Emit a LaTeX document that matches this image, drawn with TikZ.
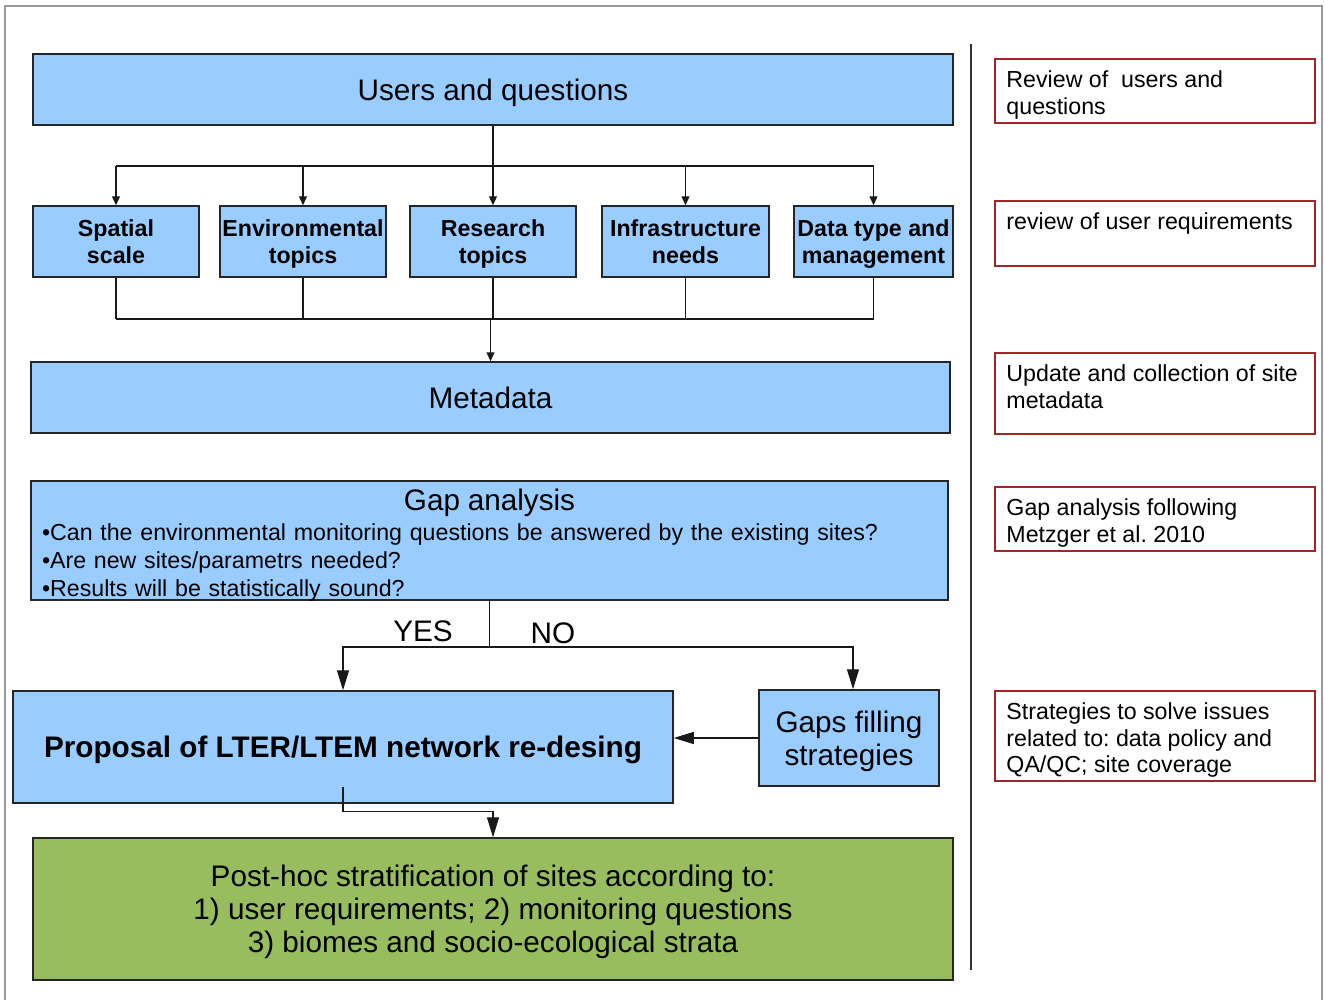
\documentclass[tikz,border=0pt]{standalone}
\usepackage{fontspec}
\setmainfont{Liberation Sans}
\usetikzlibrary{arrows.meta}
\frenchspacing
\definecolor{boxblue}{RGB}{153,204,255}
\definecolor{boxgreen}{RGB}{151,189,94}
\definecolor{notered}{RGB}{160,38,40}
\newcommand{\bigtext}{\fontsize{29.7}{33}\selectfont}
\newcommand{\smalltext}{\fontsize{23.2}{26.5}\selectfont}
\newcommand{\gaptext}{\fontsize{23.2}{28}\selectfont}

\begin{document}
\begin{tikzpicture}[x=1pt,y=-1pt,
  boxbase/.style={draw=black!85,line width=1.5pt,fill=boxblue,inner sep=0pt},
  bluebox/.style={boxbase,align=center,text depth=0pt},
  notebox/.style={draw=notered,line width=1.5pt,minimum width=320pt,inner sep=0pt},
  notetext/.style={anchor=north west,inner sep=0pt,align=left,font=\smalltext,xshift=12pt,yshift=-12.5pt},
  link/.style={line width=1.2pt,black!90},
  smallarr/.style={link,-{Triangle[length=9pt,width=8pt]}},
  bigarr/.style={link,-{Triangle[length=20pt,width=12pt]}}]

\useasboundingbox (0,0) rectangle (1325,999);
\draw[black!40,line width=1.2pt] (5,1005) -- (5,6) -- (1322,6) -- (1322,1005);
\draw[black!80,line width=1.6pt] (971,44) -- (971,970);

\node[bluebox,minimum width=920pt,minimum height=71pt,font=\bigtext] (users) at (493,89.5) {Users and questions};
\node[bluebox,minimum width=166pt,minimum height=71pt,font=\smalltext\bfseries] (spatial) at (116,241.5) {Spatial\\scale};
\node[bluebox,minimum width=166pt,minimum height=71pt,font=\smalltext\bfseries] (envir) at (303,241.5) {Environmental\\topics};
\node[bluebox,minimum width=166pt,minimum height=71pt,font=\smalltext\bfseries] (topics) at (493,241.5) {Research\\topics};
\node[bluebox,minimum width=167pt,minimum height=71pt,font=\smalltext\bfseries] (infra) at (685.5,241.5) {Infrastructure\\needs};
\node[bluebox,minimum width=159pt,minimum height=71pt,font=\smalltext\bfseries] (datat) at (873.5,241.5) {Data type and\\management};
\node[bluebox,minimum width=919pt,minimum height=71pt,font=\bigtext] (meta) at (490.5,397.5) {Metadata};
\node[boxbase,minimum width=917pt,minimum height=119pt,text width=895pt,text depth=81.3pt,align=left,font=\gaptext] (gap) at (489.5,540.5)
  {{\centering\bigtext Gap analysis\par}\vspace{2pt}
   •Can the environmental monitoring questions be answered by the existing sites?\\
   •Are new sites/parametrs needed?\\
   •Results will be statistically sound?};
\node[font=\bigtext] (yes) at (423,631) {YES};
\node[font=\bigtext] (no) at (553,633) {NO};
\node[bluebox,minimum width=660pt,minimum height=112pt,font=\bigtext\bfseries] (prop) at (343,747) {Proposal of LTER/LTEM network re-desing};
\node[bluebox,minimum width=180pt,minimum height=96pt,font=\bigtext] (gapsfill) at (849,738) {Gaps filling\\strategies};
\node[bluebox,fill=boxgreen,minimum width=920pt,minimum height=142pt,font=\bigtext] (post) at (493,909)
  {Post-hoc stratification of sites according to:\\1) user requirements; 2) monitoring questions\\3) biomes and socio-ecological strata};

\coordinate (branch) at (0,166);
\coordinate (merge) at (0,319);
\coordinate (split) at (0,647);

\draw[smallarr] (users.south) -- (topics.north);
\draw[link] (spatial.north |- branch) -- (datat.north |- branch);
\foreach \b in {spatial,envir,infra,datat}
  \draw[smallarr] (\b.north |- branch) -- (\b.north);
\foreach \b in {spatial,envir,topics,infra,datat}
  \draw[link] (\b.south) -- (\b.south |- merge);
\draw[link] (spatial.south |- merge) -- (datat.south |- merge);
\draw[smallarr] (meta.north |- merge) -- (meta.north);

\draw[link] (gap.south) -- (gap.south |- split);
\draw[bigarr] (gap.south |- split) -| (prop.north);
\draw[bigarr] (gap.south |- split) -| ([xshift=4pt]gapsfill.north);
\draw[bigarr] (gapsfill.west) -- (gapsfill.west -| prop.east);
\draw[bigarr] ([yshift=17pt]prop.south) -- ++(0,25) -| (post.north);

\node[notebox,minimum height=64pt] (note1) at (1155,91) {};
\node[notetext] (note1t) at (note1.north west) {Review of\ \ users and\\questions};
\node[notebox,minimum height=65pt] (note2) at (1155,233.5) {};
\node[notetext] (note2t) at (note2.north west) {review of user requirements};
\node[notebox,minimum height=81pt] (note3) at (1155,393.5) {};
\node[notetext] (note3t) at (note3.north west) {Update and collection of site\\metadata};
\node[notebox,minimum height=64pt] (note4) at (1155,519) {};
\node[notetext] (note4t) at (note4.north west) {Gap analysis following\\Metzger et al. 2010};
\node[notebox,minimum height=90pt] (note5) at (1155,736) {};
\node[notetext] (note5t) at (note5.north west) {Strategies to solve issues\\related to: data policy and\\QA/QC; site coverage};

\end{tikzpicture}
\end{document}
